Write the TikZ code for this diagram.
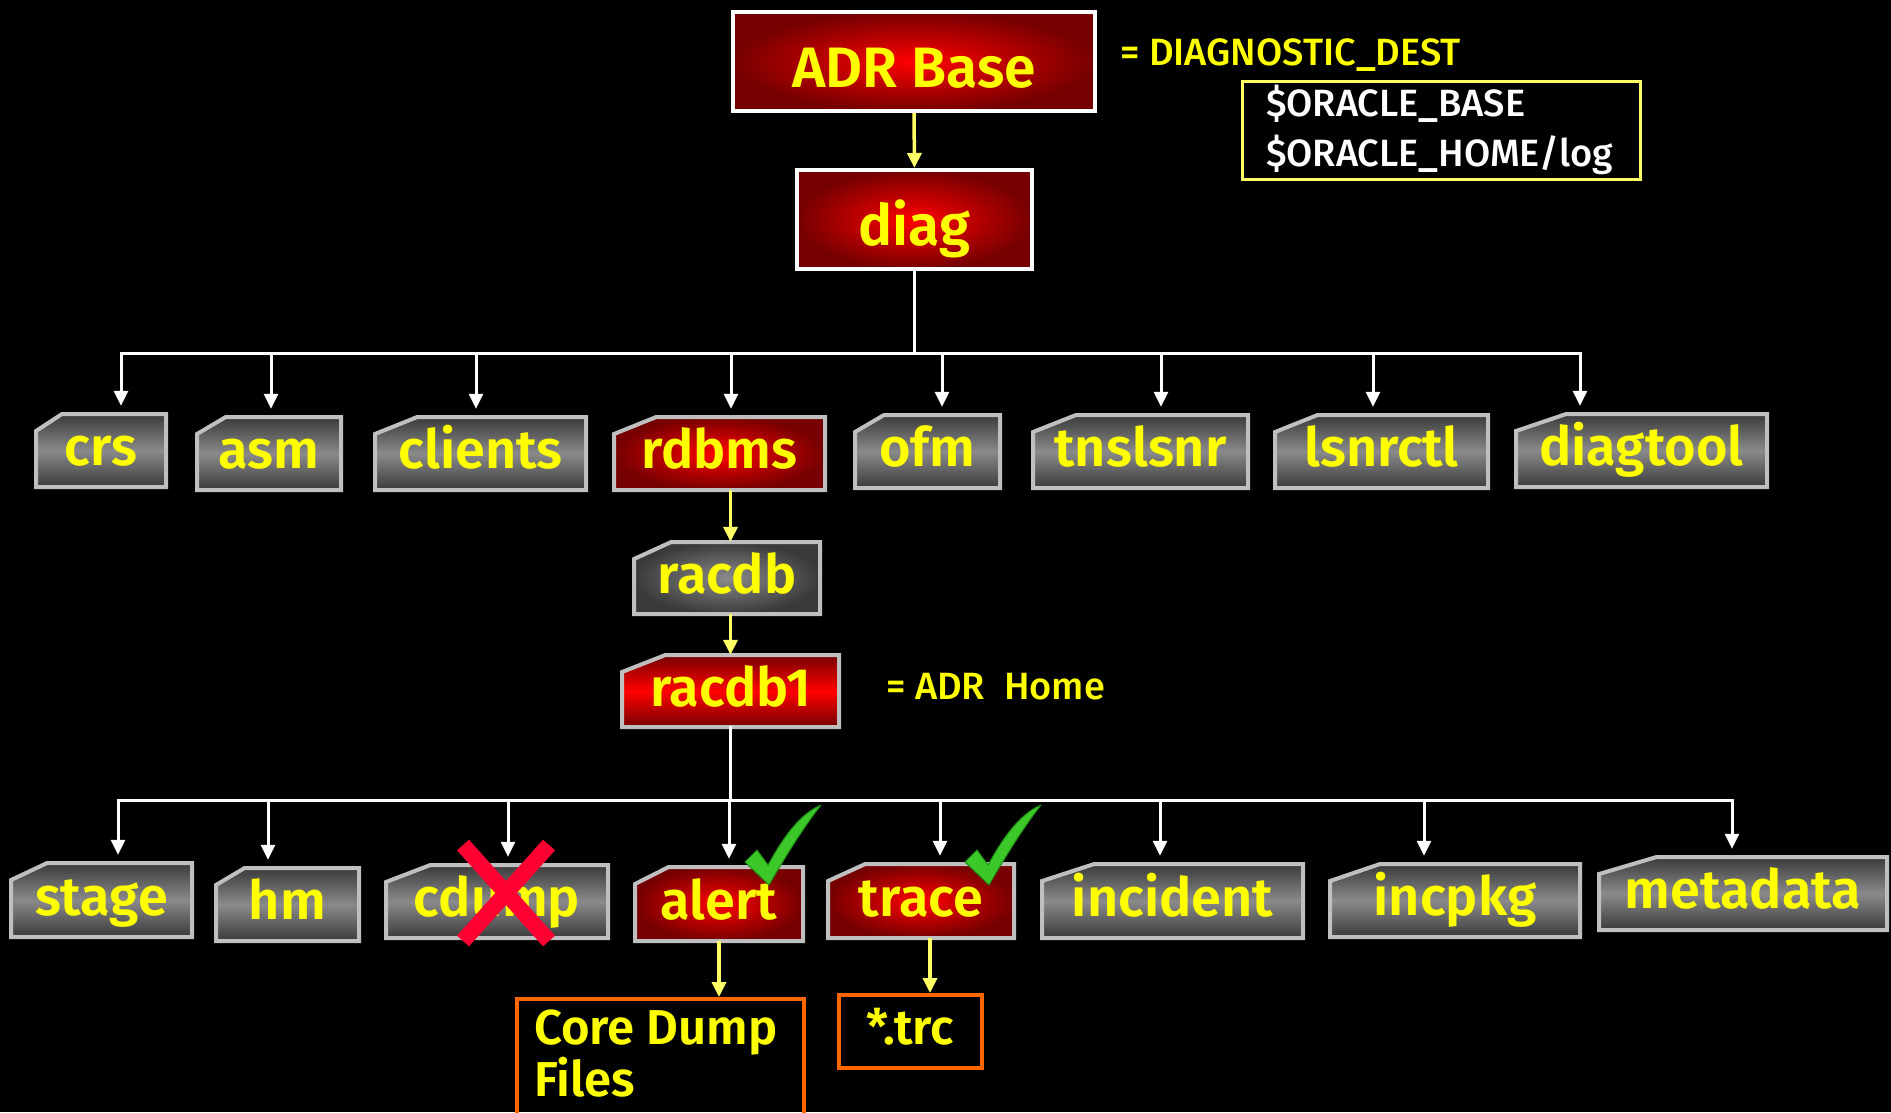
\documentclass[tikz,border=0pt]{standalone}
\usepackage{fontspec}
\setmainfont{Fira Sans}[BoldFont={Fira Sans SemiBold}]
\newfontfamily\mediumface{Fira Sans Medium}
\usetikzlibrary{arrows.meta}

\definecolor{labelyellow}{HTML}{FFFF00}
\definecolor{paleyellow}{HTML}{FFFF66}
\definecolor{rimgrey}{HTML}{BFBFBF}
\definecolor{folderdark}{HTML}{3A3A3A}
\definecolor{folderlight}{HTML}{8A8A8A}
\definecolor{redbright}{HTML}{FF0000}
\definecolor{reddark}{HTML}{760000}
\definecolor{fileorange}{HTML}{FF6600}
\definecolor{crossred}{HTML}{FF0033}
\definecolor{tickgreen}{HTML}{3CC828}
\definecolor{tickedge}{HTML}{1E8C14}

\tikzset{
  greyband/.style={top color=folderdark, bottom color=folderdark, middle color=folderlight},
  greyradial/.style={inner color=folderlight, outer color=folderdark},
  redradial/.style={inner color=redbright, outer color=reddark},
  redband/.style={top color=reddark, bottom color=reddark, middle color=redbright},
  rim/.style={draw=rimgrey, line width=4pt, line join=miter},
  foldertext/.style={font=\fontsize{54}{58}\selectfont\bfseries, text=labelyellow,
    inner sep=0pt, text height=40pt, text depth=10pt},
  topbox/.style={draw=white, line width=4pt, inner color=redbright, outer color=reddark,
    inner sep=0pt, text=labelyellow, font=\fontsize{57}{60}\selectfont\bfseries,
    text height=62pt, text depth=10pt},
  whitearrow/.style={draw=white, line width=3pt, -{Triangle[width=14pt,length=15pt]}},
  yellowarrow/.style={draw=paleyellow, line width=3.5pt, -{Triangle[width=14pt,length=15pt]}},
  busline/.style={draw=white, line width=3pt, line cap=rect},
  filebox/.style={draw=fileorange, line width=4pt, inner sep=0pt},
  filetext/.style={font=\fontsize{49}{45}\selectfont\bfseries, text=labelyellow},
  note/.style={text=labelyellow, inner sep=0pt, font=\fontsize{38}{44}\selectfont\mediumface},
}

% folder-tab box: name, x1, y1, x2, y2, fill style, label
\newcommand\folderbox[7]{%
  \pgfmathsetmacro\fcut{0.2*(#4-#2)}%
  \pgfmathsetmacro\fw{#4-#2}%
  \pgfmathsetmacro\fh{#5-#3}%
  \shade[#6] (#2,#3+17) -- (#2+\fcut,#3) -- (#4,#3) -- (#4,#5) -- (#2,#5) -- cycle;
  \draw[rim] (#2,#3+17) -- (#2+\fcut,#3) -- (#4,#3) -- (#4,#5) -- (#2,#5) -- cycle;
  \node[foldertext, minimum width=\fw pt, minimum height=\fh pt] (#1) at ({(#2+#4)/2},{(#3+#5)/2}) {#7};
}

% green tick mark
\newcommand\tickmark{%
  \filldraw[fill=tickgreen, draw=tickedge, line width=1pt, line join=round]
    (745,862) -- (757,850) -- (768,865)
    .. controls (784,836) and (800,814) .. (821,805)
    .. controls (806,824) and (788,852) .. (769,885) -- cycle;
}

\begin{document}
\begin{tikzpicture}[x=1pt,y=-1pt]
\fill[black] (0,0) rectangle (1891,1112);
\useasboundingbox (0,0) rectangle (1891,1112);
\clip (0,0) rectangle (1891,1112);

% top of the tree
\node[topbox, minimum width=362pt, minimum height=99pt] (base) at (914,61.5) {ADR Base};
\node[topbox, minimum width=235pt, minimum height=99pt] (diag) at (914.5,219.5) {diag};
\draw[yellowarrow] (base.south) -- (diag.north);

\node[note, anchor=base west] (dest) at (1120,65) {= DIAGNOSTIC\_DEST};
\node[draw=paleyellow, line width=3pt, minimum width=396pt, minimum height=98pt,
  text width=350pt, inner xsep=24pt, align=left, text=white,
  font=\fontsize{38}{50}\selectfont\mediumface] (oracle) at (1441,130)
  {\$ORACLE\_BASE\\\$ORACLE\_HOME/log};

% first level below diag
\folderbox{crs}{36}{414}{166}{487}{greyband}{crs}
\folderbox{asm}{197}{417}{341}{490}{greyband}{asm}
\folderbox{clients}{375}{417}{586}{490}{greyband}{clients}
\folderbox{rdbms}{614}{417}{825}{490}{redradial}{rdbms}
\folderbox{ofm}{855}{415}{1000}{488}{greyband}{ofm}
\folderbox{tnslsnr}{1033}{415}{1248}{488}{greyband}{tnslsnr}
\folderbox{lsnrctl}{1275}{415}{1488}{488}{greyband}{lsnrctl}
\folderbox{diagtool}{1516}{414}{1767}{487}{greyband}{diagtool}

\coordinate (t1) at (121,353);
\coordinate (t2) at (271,353);
\coordinate (t3) at (476,353);
\coordinate (t4) at (731,353);
\coordinate (t5) at (942,353);
\coordinate (t6) at (1161,353);
\coordinate (t7) at (1373,353);
\coordinate (t8) at (1580,353);
\draw[busline] (diag.south) -- (diag.south |- t1);
\draw[busline] (t1) -- (t8);
\foreach \c/\n in {t1/crs,t2/asm,t3/clients,t4/rdbms,t5/ofm,t6/tnslsnr,t7/lsnrctl,t8/diagtool}
  \draw[whitearrow, shorten >=8pt] (\c) -- (\c |- \n.north);

% database branch
\folderbox{racdb}{634}{542}{820}{614}{greyradial}{racdb}
\folderbox{racdb1}{622}{655}{839}{727}{redband}{racdb1}
\draw[yellowarrow] (rdbms.south -| racdb1.south) -- (racdb.north -| racdb1.south);
\draw[yellowarrow] (racdb.south -| racdb1.south) -- (racdb1.north);
\node[note, anchor=base west, font=\fontsize{38}{40}\selectfont\mediumface] (home) at (886,699) {= ADR\ \ Home};

% ADR home contents
\folderbox{stage}{11}{863}{192}{937}{greyband}{stage}
\folderbox{hm}{216}{868}{359}{941}{greyband}{hm}
\folderbox{cdump}{386}{865}{608}{938}{greyband}{cdump}
\folderbox{alert}{635}{867}{803}{941}{redradial}{alert}
\folderbox{trace}{828}{864}{1014}{938}{redradial}{trace}
\folderbox{incident}{1042}{864}{1303}{938}{greyband}{incident}
\folderbox{incpkg}{1330}{864}{1580}{937}{greyband}{incpkg}
\folderbox{metadata}{1599}{857}{1887}{930}{greyband}{metadata}

\coordinate (b1) at (118,800);
\coordinate (b2) at (268,800);
\coordinate (b3) at (508,800);
\coordinate (b4) at (729,800);
\coordinate (b5) at (940,800);
\coordinate (b6) at (1160,800);
\coordinate (b7) at (1424,800);
\coordinate (b8) at (1732,800);
\draw[busline] (racdb1.south) -- (racdb1.south |- b1);
\draw[busline] (b1) -- (b8);

% cdump is crossed out
\draw[crossred, line width=16pt] (463,845) -- (549,941);
\draw[crossred, line width=16pt] (549,845) -- (463,941);

\foreach \c/\n in {b1/stage,b2/hm,b3/cdump,b4/alert,b5/trace,b6/incident,b7/incpkg,b8/metadata}
  \draw[whitearrow, shorten >=8pt] (\c) -- (\c |- \n.north);

% ticks on alert and trace
\tickmark
\begin{scope}[shift={(220,0)}]
  \tickmark
\end{scope}

% files written below alert and trace
\node[filebox, minimum width=287pt, minimum height=140pt, anchor=north west] (core) at (515,997) {};
\node[filetext, anchor=base west, align=left, inner sep=0pt] (coretext) at (534,1096) {Core Dump\\Files};
\node[filebox, filetext, minimum width=143pt, minimum height=73pt, text height=35pt, text depth=10pt] (trc) at (910.5,1031.5) {*.trc};
\coordinate (tx) at (930,0);
\draw[yellowarrow] (alert.south) -- (core.north -| alert.south);
\draw[yellowarrow] (trace.south -| tx) -- (trc.north -| tx);
\end{tikzpicture}
\end{document}
